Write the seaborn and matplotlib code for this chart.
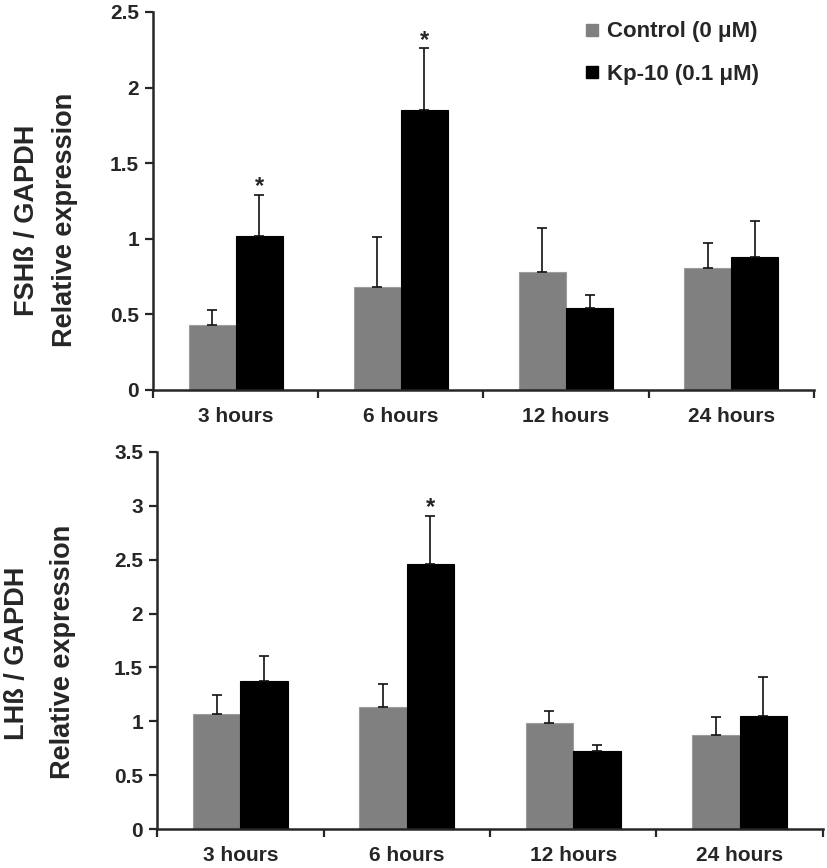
import matplotlib
matplotlib.use("Agg")
import matplotlib.pyplot as plt
from matplotlib.lines import Line2D
import pandas as pd
import seaborn as sns

times = ["3 hours", "6 hours", "12 hours", "24 hours"]
groups = ["Control (0 μM)", "Kp-10 (0.1 μM)"]

fsh_control = [0.43, 0.68, 0.78, 0.81]
fsh_control_err = [0.10, 0.33, 0.29, 0.16]
fsh_kp = [1.02, 1.85, 0.54, 0.88]
fsh_kp_err = [0.27, 0.41, 0.085, 0.24]
fsh_signif = [True, True, False, False]

lh_control = [1.07, 1.13, 0.98, 0.87]
lh_control_err = [0.17, 0.22, 0.12, 0.17]
lh_kp = [1.37, 2.46, 0.72, 1.05]
lh_kp_err = [0.24, 0.45, 0.06, 0.36]
lh_signif = [False, True, False, False]

cores = {groups[0]: "#808080", groups[1]: "#000000"}
bordas = ["#9c9c9c", "#000000"]

sns.set_style("ticks")
plt.rcParams["font.family"] = ["Liberation Sans", "DejaVu Sans"]
plt.rcParams["font.weight"] = "bold"


def monta_df(controle, kp):
    linhas = []
    for t, c, k in zip(times, controle, kp):
        linhas.append({"tempo": t, "grupo": groups[0], "valor": c})
        linhas.append({"tempo": t, "grupo": groups[1], "valor": k})
    return pd.DataFrame(linhas)


def painel(ax, controle, controle_err, kp, kp_err, signif, ymax, ystep):
    df = monta_df(controle, kp)
    sns.barplot(data=df, x="tempo", y="valor", hue="grupo", order=times,
                hue_order=groups, palette=cores, errorbar=None, width=0.57,
                gap=0, legend=False, ax=ax, linewidth=0.8)

    erros = [controle_err, kp_err]
    barras = list(ax.containers)
    for i, cont in enumerate(barras):
        xs, hs = [], []
        for p in cont.patches:
            p.set_edgecolor(bordas[i])
            xs.append(p.get_x() + p.get_width() / 2)
            hs.append(p.get_height())
        ax.errorbar(xs, hs, yerr=[[0] * len(hs), erros[i]], fmt="none",
                    ecolor="#111111", elinewidth=1.2, capsize=3.5, capthick=1.2)
        if i == 1:
            for x, h, e, s in zip(xs, hs, erros[i], signif):
                if s:
                    ax.annotate("*", (x, h + e), xytext=(0, -2.5),
                                textcoords="offset points", ha="center",
                                va="bottom", fontsize=17, fontweight="bold")

    ax.set_xlim(-0.5, len(times) - 0.5)
    ax.set_ylim(0, ymax)
    ticks = [round(i * ystep, 2) for i in range(int(round(ymax / ystep)) + 1)]
    ax.set_yticks(ticks)
    ax.set_yticklabels([f"{t:g}" for t in ticks])
    ax.set_xticks(range(len(times)))
    ax.set_xticklabels(times)
    ax.set_xticks([i - 0.5 for i in range(len(times) + 1)], minor=True)
    ax.tick_params(axis="x", which="major", length=0, pad=12, labelsize=15)
    ax.tick_params(axis="x", which="minor", length=6, width=1.6, direction="out")
    ax.tick_params(axis="y", length=6, width=1.6, labelsize=15, pad=4)
    for lbl in ax.get_xticklabels() + ax.get_yticklabels():
        lbl.set_fontweight("bold")
    ax.set_xlabel("")
    ax.set_ylabel("")
    sns.despine(ax=ax)
    ax.spines["left"].set_linewidth(1.8)
    ax.spines["bottom"].set_linewidth(1.8)


fig = plt.figure(figsize=(8.27, 8.68), dpi=100)
ax1 = fig.add_axes([0.185, 0.5507, 0.799, 0.4355])
ax2 = fig.add_axes([0.190, 0.0449, 0.805, 0.4344])

painel(ax1, fsh_control, fsh_control_err, fsh_kp, fsh_kp_err, fsh_signif, 2.5, 0.5)
painel(ax2, lh_control, lh_control_err, lh_kp, lh_kp_err, lh_signif, 3.5, 0.5)

handles = [Line2D([], [], marker="s", linestyle="none", markersize=9,
                  markerfacecolor=cores[g], markeredgecolor=cores[g]) for g in groups]
ax1.legend(handles, groups, loc="upper left", bbox_to_anchor=(0.655, 0.975),
           frameon=False, handlelength=0.6, handletextpad=0.35, labelspacing=0.95,
           borderpad=0, borderaxespad=0, prop={"size": 16, "weight": "bold"})

fig.text(0.033, 1 - 220 / 868, "FSHß / GAPDH", rotation=90, ha="center",
         va="center", fontsize=19.5, fontweight="bold")
fig.text(0.078, 1 - 220 / 868, "Relative expression", rotation=90, ha="center",
         va="center", fontsize=19.5, fontweight="bold")
fig.text(0.020, 1 - 653 / 868, "LHß / GAPDH", rotation=90, ha="center",
         va="center", fontsize=19.5, fontweight="bold")
fig.text(0.076, 1 - 652 / 868, "Relative expression", rotation=90, ha="center",
         va="center", fontsize=19.5, fontweight="bold")

fig.savefig("out.png", dpi=100)
plt.close(fig)
